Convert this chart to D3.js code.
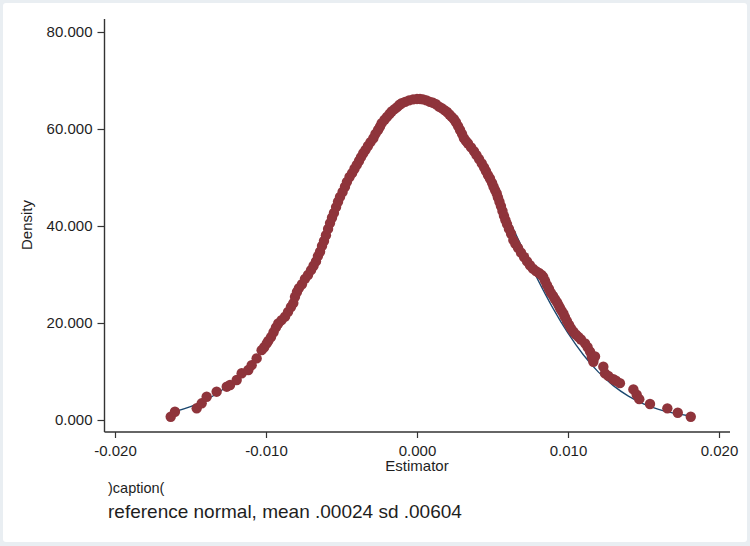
<!DOCTYPE html>
<html>
<head>
<meta charset="utf-8">
<script src="https://cdn.jsdelivr.net/npm/d3@7"></script>
<style>
html,body{margin:0;padding:0;background:#ffffff;}
svg{display:block;}
text{font-family:"Liberation Sans",Arial,Helvetica,sans-serif;fill:#1e1e1e;}
</style>
</head>
<body>
<svg id="chart" width="750" height="546"></svg>
<script>
// Kernel density estimate points (Estimator value, Density)
const kdeX = [
-0.01631,-0.01603,-0.01459,-0.01426,-0.01393,-0.01327,-0.01260,-0.01238,-0.01194,-0.01161,
-0.01117,-0.01095,-0.01062,-0.01029,-0.01012,-0.00995,-0.00985,-0.00967,-0.00950,-0.00934,
-0.00919,-0.00897,-0.00874,-0.00854,-0.00835,-0.00819,-0.00808,-0.00795,-0.00782,-0.00762,
-0.00742,-0.00722,-0.00702,-0.00685,-0.00669,-0.00656,-0.00642,-0.00629,-0.00616,-0.00603,
-0.00589,-0.00576,-0.00563,-0.00550,-0.00536,-0.00523,-0.00510,-0.00493,-0.00477,-0.00464,
-0.00447,-0.00430,-0.00414,-0.00399,-0.00384,-0.00371,-0.00356,-0.00341,-0.00325,-0.00308,
-0.00289,-0.00275,-0.00258,-0.00245,-0.00234,-0.00215,-0.00199,-0.00182,-0.00168,-0.00149,
-0.00132,-0.00116,-0.00101,-0.00079,-0.00053,-0.00026,0.00000,0.00020,0.00040,0.00063,
0.00086,0.00106,0.00126,0.00146,0.00164,0.00182,0.00199,0.00215,0.00230,0.00245,
0.00258,0.00272,0.00285,0.00298,0.00311,0.00325,0.00338,0.00358,0.00378,0.00394,
0.00411,0.00429,0.00444,0.00457,0.00470,0.00483,0.00497,0.00507,0.00517,0.00528,
0.00536,0.00546,0.00556,0.00566,0.00576,0.00586,0.00596,0.00609,0.00623,0.00638,
0.00652,0.00669,0.00689,0.00709,0.00729,0.00748,0.00768,0.00788,0.00808,0.00825,
0.00836,0.00848,0.00861,0.00874,0.00887,0.00901,0.00914,0.00927,0.00937,0.00947,
0.00958,0.00970,0.00980,0.00993,0.01007,0.01020,0.01036,0.01053,0.01070,0.01086,
0.01113,0.01130,0.01146,0.01158,0.01168,0.01179,0.01234,0.01245,0.01267,0.01300,
0.01318,0.01344,0.01433,0.01455,0.01472,0.01543,0.01658,0.01727,0.01813
];
const kdeY = [
0.68,1.71,2.41,3.44,4.80,5.84,6.87,7.22,8.25,9.63,
10.3,11.3,12.7,14.4,15.0,15.8,16.3,17.1,18.1,19.1,
19.9,20.6,21.3,22.3,23.3,24.1,25.4,26.4,27.2,28.0,
29.1,29.9,30.9,31.8,32.7,33.8,34.7,35.9,36.9,38.1,
39.4,40.6,41.7,42.7,43.9,45.0,46.0,47.0,48.1,49.1,
50.1,50.9,51.8,52.6,53.4,54.2,55.0,55.7,56.5,57.3,
58.1,59.0,59.8,60.5,61.2,61.9,62.5,63.1,63.6,64.1,
64.5,65.0,65.3,65.6,65.9,66.1,66.2,66.2,66.1,65.9,
65.6,65.4,65.1,64.6,64.3,63.9,63.5,63.0,62.5,62.0,
61.4,60.6,59.8,59.0,58.1,57.5,57.0,56.2,55.4,54.6,
53.8,52.9,52.1,51.3,50.5,49.8,48.9,48.1,47.4,46.7,
45.9,45.0,44.1,43.1,42.1,41.2,40.4,39.4,38.4,37.1,
36.3,35.5,34.5,33.6,32.7,31.9,31.2,30.7,30.3,29.9,
29.5,28.7,27.8,27.0,26.2,25.6,24.9,24.3,23.7,23.1,
22.5,21.9,21.2,20.4,19.6,18.9,18.2,17.6,17.1,16.6,
15.8,15.0,14.1,13.0,12.0,13.1,11.0,9.6,9.1,8.4,
8.1,7.6,6.3,5.2,4.3,3.3,2.4,1.5,0.68
];
// Reference normal density (mean .00024, sd .00604), values read at these estimator points
const normX = [-0.0163,-0.016,-0.015,-0.014,-0.013,-0.012,-0.011,-0.010,-0.009,-0.008,
-0.007,-0.006,-0.005,-0.004,-0.003,-0.002,-0.001,0,0.001,0.002,0.003,0.004,0.005,0.006,
0.007,0.008,0.009,0.010,0.011,0.012,0.013,0.014,0.015,0.016,0.017,0.018,0.0181];
const normY = [1.553,1.778,2.738,4.101,5.974,8.477,11.69,15.70,20.50,26.04,
32.20,38.73,45.34,51.63,57.20,61.66,64.67,66.00,65.53,63.30,59.50,54.41,48.42,41.92,
35.31,28.94,23.07,17.90,13.51,9.923,7.088,4.930,3.334,2.195,1.406,0.876,0.834];

const xTicks = [-0.02,-0.01,0,0.01,0.02];
const xTickLabels = ["-0.020","-0.010","0.000","0.010","0.020"];
const yTicks = [0,20,40,60,80];
const yTickLabels = ["0.000","20.000","40.000","60.000","80.000"];
const xTitle = "Estimator";
const yTitle = "Density";
const captionLine1 = ")caption(";
const captionLine2 = "reference normal, mean .00024 sd .00604";

const svg = d3.select("#chart");
const W = 750, H = 546;

// faint outer frame
svg.append("rect").attr("x",0).attr("y",0).attr("width",W).attr("height",H).attr("fill","#e9eef2");
svg.append("rect").attr("x",3).attr("y",3).attr("width",W-6).attr("height",H-7).attr("rx",3).attr("fill","#ffffff");

const x = d3.scaleLinear().domain([-0.02,0.02]).range([115,719]);
const y = d3.scaleLinear().domain([0,80]).range([420,32]);
const axisX0 = 104.5, axisY0 = 432;

const axisColor = "#333333";

// Y axis
const yAxis = d3.axisLeft(y).tickValues(yTicks).tickFormat((d,i)=>yTickLabels[i]).tickSize(7).tickPadding(5);
const gy = svg.append("g").attr("transform",`translate(${axisX0},0)`).call(yAxis);
gy.select(".domain").remove();
gy.append("line").attr("x1",0).attr("x2",0).attr("y1",19).attr("y2",axisY0).attr("stroke",axisColor).attr("stroke-width",1.4);
gy.selectAll(".tick line").attr("stroke",axisColor).attr("stroke-width",1.2);
gy.selectAll(".tick text").attr("font-size",15).attr("fill","#1e1e1e").attr("font-family","Liberation Sans, Arial, sans-serif");

// X axis
const xAxis = d3.axisBottom(x).tickValues(xTicks).tickFormat((d,i)=>xTickLabels[i]).tickSize(6).tickPadding(7);
const gx = svg.append("g").attr("transform",`translate(0,${axisY0})`).call(xAxis);
gx.select(".domain").remove();
gx.append("line").attr("x1",axisX0).attr("x2",730).attr("y1",0).attr("y2",0).attr("stroke",axisColor).attr("stroke-width",1.4);
gx.selectAll(".tick line").attr("stroke",axisColor).attr("stroke-width",1.2);
gx.selectAll(".tick text").attr("font-size",15).attr("fill","#1e1e1e").attr("font-family","Liberation Sans, Arial, sans-serif");

// Titles
svg.append("text").attr("x",417).attr("y",471).attr("text-anchor","middle").attr("font-size",15).text(xTitle);
svg.append("text").attr("transform","translate(32,225) rotate(-90)").attr("text-anchor","middle").attr("font-size",15).text(yTitle);

// Normal reference line
const normData = normX.map((v,i)=>[v,normY[i]]);
const line = d3.line().x(d=>x(d[0])).y(d=>y(d[1])).curve(d3.curveMonotoneX);
svg.append("path").datum(normData).attr("d",line).attr("fill","none").attr("stroke","#1a476f").attr("stroke-width",1.3);

// KDE markers
const kdeData = kdeX.map((v,i)=>[v,kdeY[i]]);
svg.append("g").selectAll("circle").data(kdeData).join("circle")
  .attr("cx",d=>x(d[0])).attr("cy",d=>y(d[1])).attr("r",5.2)
  .attr("fill","#8f343b");

// Caption
svg.append("text").attr("x",108).attr("y",493).attr("font-size",14.5).text(captionLine1);
svg.append("text").attr("x",108).attr("y",518).attr("font-size",19).text(captionLine2);
</script>
</body>
</html>
